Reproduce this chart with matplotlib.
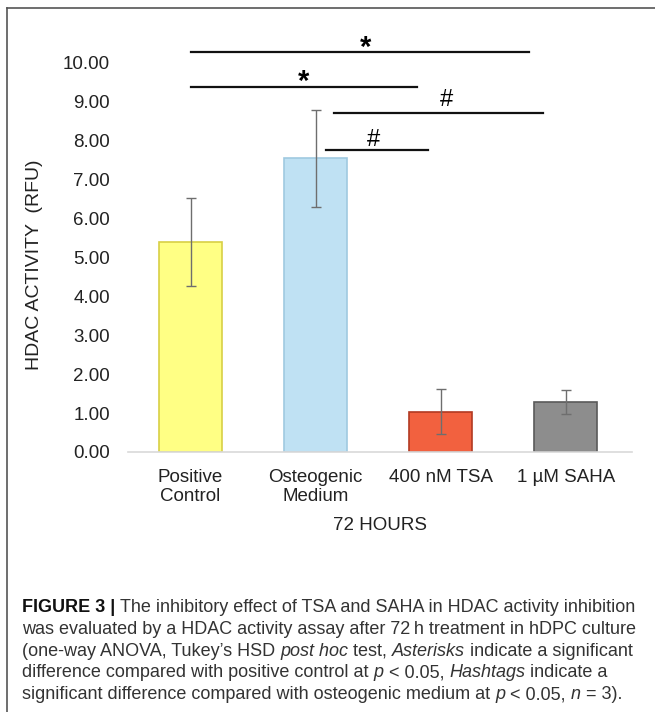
import numpy as np
import matplotlib
matplotlib.use('Agg')
import matplotlib.pyplot as plt
from matplotlib.lines import Line2D

plt.rcParams['font.family'] = ['Liberation Sans', 'DejaVu Sans']

# HDAC activity after 72 h (RFU)
groups = ['Positive\nControl', 'Osteogenic\nMedium', '400 nM TSA', '1 µM SAHA']
activity = [5.40, 7.54, 1.03, 1.28]
sd = [1.13, 1.25, 0.58, 0.30]
fill_cols = ['#ffff84', '#bfe1f3', '#f2613f', '#8d8d8d']
edge_cols = ['#d8cf45', '#9fc9e0', '#b23a22', '#5a5a5a']
yticks = np.arange(0, 11, 1)

# significance lines: x start, x end, height, mark and mark position
sig_x0 = [0.0, 0.0, 1.15, 1.08]
sig_x1 = [2.71, 1.81, 2.82, 1.90]
sig_y = [10.26, 9.36, 8.69, 7.74]
sig_mark = ['*', '*', '#', '#']
mark_x = [1.40, 0.90, 2.05, 1.46]
mark_y = [10.49, 9.62, 9.08, 8.05]

# caption, one list of (text, style) runs per line
caption = [
    [('FIGURE 3 | ', 'b'), ('The inhibitory effect of TSA and SAHA in HDAC activity inhibition', 'n')],
    [('was evaluated by a HDAC activity assay after 72\u2009h treatment in hDPC culture', 'n')],
    [('(one-way ANOVA, Tukey\u2019s HSD ', 'n'), ('post hoc', 'i'), (' test, ', 'n'),
     ('Asterisks', 'i'), (' indicate a significant', 'n')],
    [('difference compared with positive control at ', 'n'), ('p', 'i'), (' < 0.05, ', 'n'),
     ('Hashtags', 'i'), (' indicate a', 'n')],
    [('significant difference compared with osteogenic medium at ', 'n'), ('p', 'i'),
     (' < 0.05, ', 'n'), ('n', 'i'), (' = 3).', 'n')],
]

W, H = 655, 712
fig = plt.figure(figsize=(W/100, H/100), dpi=100)
ax = fig.add_axes([128/W, 1-452/H, 504/W, 413/H])

x = np.arange(len(groups))
ax.bar(x, activity, width=0.5, color=fill_cols, edgecolor=edge_cols, linewidth=1.2, zorder=2)
ax.errorbar(x, activity, yerr=sd, fmt='none', ecolor='#6e6e6e', elinewidth=1,
            capsize=3.5, capthick=1, zorder=3)

ax.set_xlim(-0.5, 3.53)
ax.set_ylim(0, 10.6)
ax.set_yticks(yticks)
ax.set_yticklabels(['%.2f' % v for v in yticks])
ax.set_xticks(x)
ax.set_xticklabels(groups, linespacing=1.15)
for s in ['left', 'top', 'right']:
    ax.spines[s].set_visible(False)
ax.spines['bottom'].set_color('#d9d9d9')
ax.spines['bottom'].set_linewidth(1.2)
ax.tick_params(axis='both', length=0, labelsize=13.5, colors='#222222')
ax.tick_params(axis='y', pad=13)
ax.tick_params(axis='x', pad=12)
ax.set_xlabel('72 HOURS', fontsize=13.5, color='#222222', labelpad=9)
fig.text(35/W, 1-265/H, 'HDAC ACTIVITY  (RFU)', rotation=90, ha='center', va='center',
         fontsize=14, color='#222222')

for x0, x1, y, m, mx, my in zip(sig_x0, sig_x1, sig_y, sig_mark, mark_x, mark_y):
    ax.plot([x0, x1], [y, y], color='#111111', lw=1.6, clip_on=False, zorder=4)
    if m == '*':
        ax.text(mx, my - 0.12, m, fontsize=21, fontweight='bold', ha='center', va='center',
                clip_on=False)
    else:
        ax.text(mx, my - 0.05, m, fontsize=17, ha='center', va='center', clip_on=False)

# frame around the figure panel
fig.add_artist(Line2D([7/W, 7/W], [0, 1-8/H], color='#555555', lw=1.2))
fig.add_artist(Line2D([7/W, 1], [1-8/H, 1-8/H], color='#555555', lw=1.2))

# caption text, built run by run
renderer = fig.canvas.get_renderer()
styles = {'n': dict(color='#333333'),
          'b': dict(color='#111111', fontweight='bold'),
          'i': dict(color='#333333', style='italic')}
cap_size = 13.0


def run_width(s, kw):
    t = fig.text(0, 0, '|' + s + '|', fontsize=cap_size, **kw)
    w = t.get_window_extent(renderer).width
    t.remove()
    t = fig.text(0, 0, '||', fontsize=cap_size, **kw)
    w -= t.get_window_extent(renderer).width
    t.remove()
    return w


base_y = 612
for i, line in enumerate(caption):
    xp = 22
    yp = base_y + i*21.75
    for s, st in line:
        fig.text(xp/W, 1-yp/H, s, fontsize=cap_size, va='baseline', ha='left', **styles[st])
        xp += run_width(s, styles[st])

fig.savefig('out.png', dpi=100)
